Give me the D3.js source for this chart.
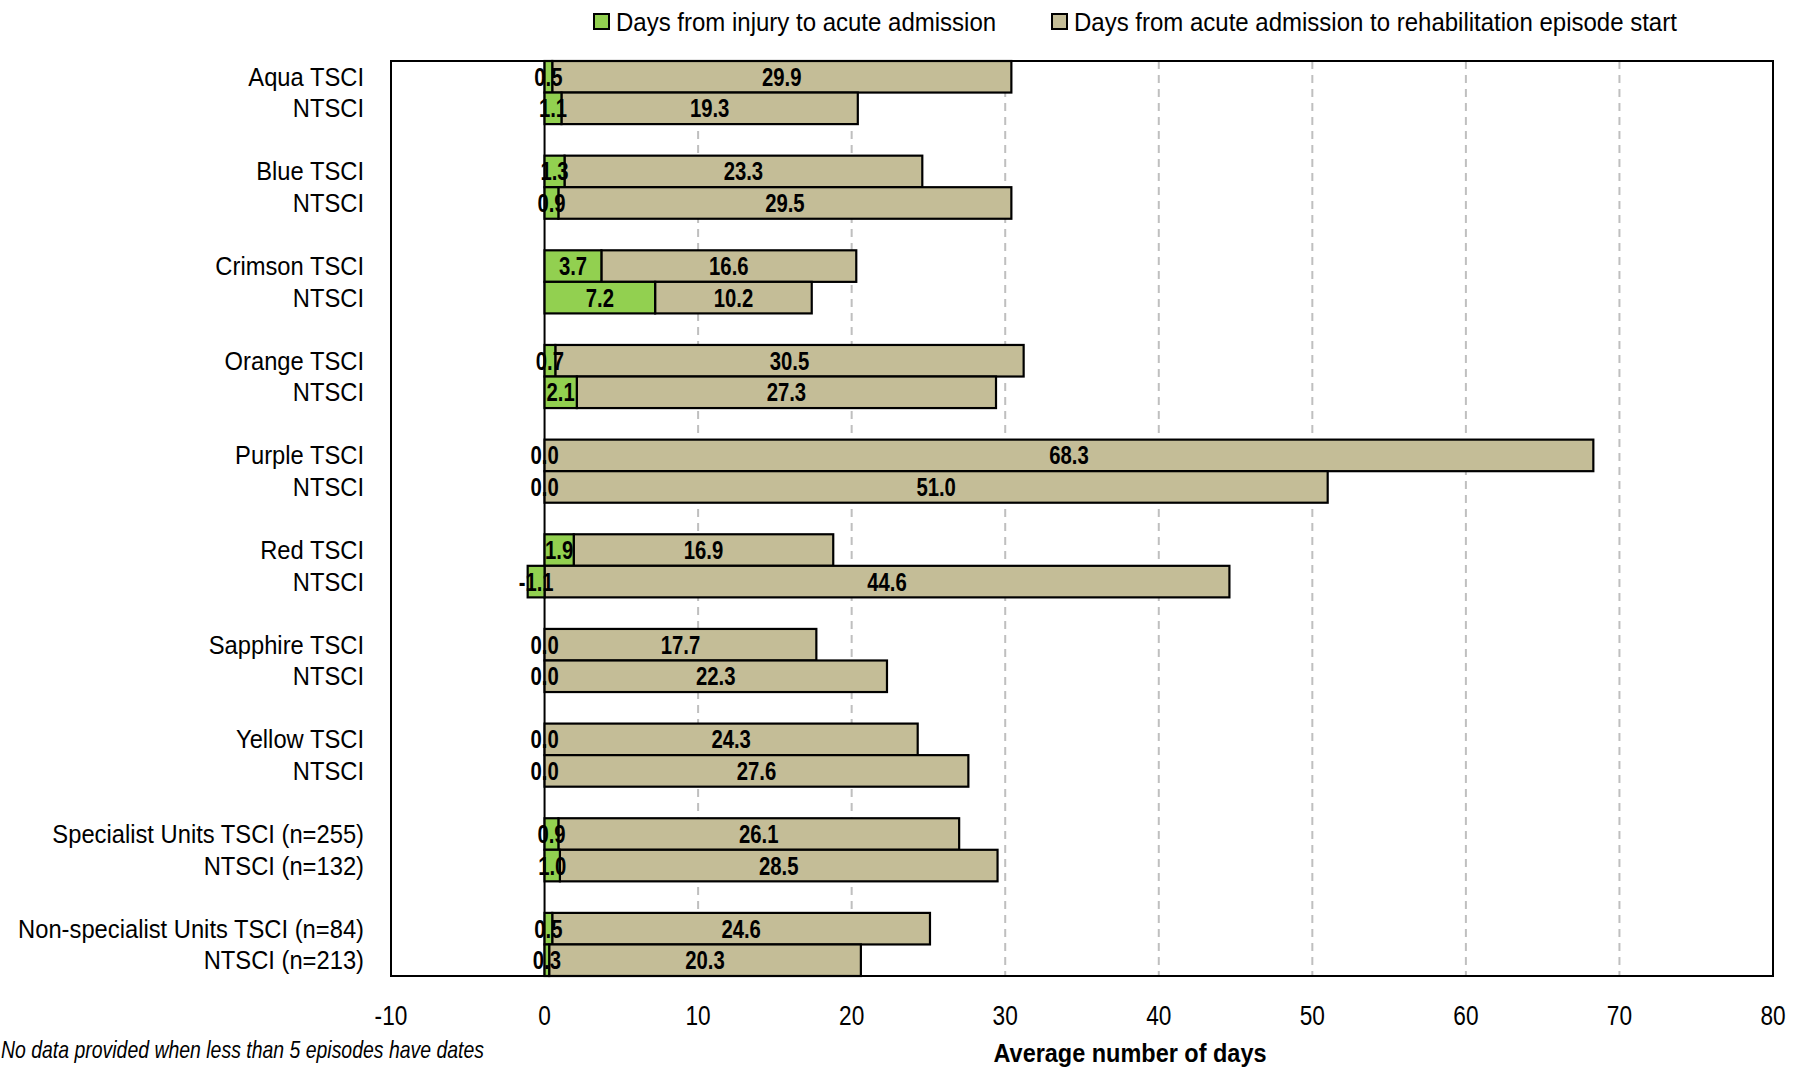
<!DOCTYPE html>
<html><head><meta charset="utf-8">
<script src="https://cdn.jsdelivr.net/npm/d3@7"></script>
<style>
html,body{margin:0;padding:0;background:#fff;}
svg{display:block;font-family:"Liberation Sans",Arial,sans-serif;}
</style></head>
<body>
<svg id="chart" width="1797" height="1073"></svg>
<script>
const groups = ["Aqua","Blue","Crimson","Orange","Purple","Red","Sapphire","Yellow","Specialist Units","Non-specialist Units"];
const rowLabels = [
  "Aqua TSCI","NTSCI","Blue TSCI","NTSCI","Crimson TSCI","NTSCI","Orange TSCI","NTSCI",
  "Purple TSCI","NTSCI","Red TSCI","NTSCI","Sapphire TSCI","NTSCI","Yellow TSCI","NTSCI",
  "Specialist Units TSCI (n=255)","NTSCI (n=132)","Non-specialist Units TSCI (n=84)","NTSCI (n=213)"
];
const injuryDays = [0.5,1.1,1.3,0.9,3.7,7.2,0.7,2.1,0.0,0.0,1.9,-1.1,0.0,0.0,0.0,0.0,0.9,1.0,0.5,0.3];
const admissionDays = [29.9,19.3,23.3,29.5,16.6,10.2,30.5,27.3,68.3,51.0,16.9,44.6,17.7,22.3,24.3,27.6,26.1,28.5,24.6,20.3];
const subTypes = ["TSCI","NTSCI"];
const xTicks = [-10,0,10,20,30,40,50,60,70,80];
const seriesNames = ["Days from injury to acute admission","Days from acute admission to rehabilitation episode start"];
const seriesColors = ["#92d050","#c4bd97"];

const svg = d3.select("#chart");
const plot = {left:391, right:1773, top:61, bottom:976};

const x = d3.scaleLinear().domain([-10,80]).range([plot.left, plot.right]);
const yGroup = d3.scaleBand().domain(groups).range([plot.top, plot.bottom]).paddingInner(1/3).paddingOuter(0);
const ySub = d3.scaleBand().domain(subTypes).range([0, yGroup.bandwidth()]);

const rows = rowLabels.map((lab,i)=>{
  const g = groups[Math.floor(i/2)], s = subTypes[i%2];
  const inj = injuryDays[i], adm = admissionDays[i];
  return {lab, g, s, inj, adm, y: yGroup(g)+ySub(s), h: ySub.bandwidth(), admStart: Math.max(0,inj)};
});

function addText(sel, x0, y0, str, opts){
  const t = sel.append("text")
    .attr("transform", `translate(${x0},${y0}) scale(${opts.sx||1},1)`)
    .attr("text-anchor", opts.anchor||"start")
    .attr("font-size", opts.size)
    .attr("font-weight", opts.weight||"normal")
    .attr("font-style", opts.style||"normal")
    .attr("fill", "#000")
    .text(str);
  if (opts.len) t.attr("textLength", opts.len).attr("lengthAdjust","spacingAndGlyphs");
  return t;
}

// gridlines
const grid = svg.append("g");
xTicks.filter(t=>t>-10 && t<80 && t!==0).forEach(t=>{
  grid.append("line").attr("x1",x(t)).attr("x2",x(t)).attr("y1",plot.top).attr("y2",plot.bottom)
    .attr("stroke","#bfbfbf").attr("stroke-width",2).attr("stroke-dasharray","8,6");
});
// zero line
svg.append("line").attr("x1",x(0)).attr("x2",x(0)).attr("y1",plot.top).attr("y2",plot.bottom)
  .attr("stroke","#000").attr("stroke-width",2);

// bars
const bars = svg.append("g");
rows.forEach(r=>{
  bars.append("rect").attr("x", x(r.admStart)).attr("y", r.y).attr("width", x(r.admStart+r.adm)-x(r.admStart)).attr("height", r.h)
    .attr("fill", seriesColors[1]).attr("stroke","#000").attr("stroke-width",2.2);
  if (r.inj !== 0) {
    bars.append("rect").attr("x", x(Math.min(0,r.inj))).attr("y", r.y).attr("width", Math.abs(x(r.inj)-x(0))).attr("height", r.h)
      .attr("fill", seriesColors[0]).attr("stroke","#000").attr("stroke-width",2.2);
  }
});
// data labels
const labs = svg.append("g");
rows.forEach(r=>{
  const cy = r.y + r.h/2 + 9;
  addText(labs, x(r.inj/2), cy, r.inj.toFixed(1), {size:26, weight:"bold", sx:0.78, anchor:"middle"});
  addText(labs, x(r.admStart + r.adm/2), cy, r.adm.toFixed(1), {size:26, weight:"bold", sx:0.78, anchor:"middle"});
});

// plot border
svg.append("rect").attr("x",plot.left).attr("y",plot.top).attr("width",plot.right-plot.left).attr("height",plot.bottom-plot.top)
  .attr("fill","none").attr("stroke","#000").attr("stroke-width",2);

// category labels
const yl = svg.append("g");
rows.forEach(r=>{
  addText(yl, 364, r.y + r.h/2 + 9, r.lab, {size:25, sx:0.95, anchor:"end"});
});

// x tick labels
const xl = svg.append("g");
xTicks.forEach(t=>{
  addText(xl, x(t), 1025, String(t), {size:27, sx:0.84, anchor:"middle"});
});

// axis title
addText(svg, 1130, 1062, "Average number of days", {size:25.5, weight:"bold", anchor:"middle", len:273});
// footnote
addText(svg, 1, 1058, "No data provided when less than 5 episodes have dates", {size:24, style:"italic", len:483});

// legend
const leg = svg.append("g");
const legX = [594, 1052];
seriesNames.forEach((n,i)=>{
  leg.append("rect").attr("x",legX[i]).attr("y",14).attr("width",15).attr("height",15)
    .attr("fill",seriesColors[i]).attr("stroke","#000").attr("stroke-width",2);
  addText(leg, legX[i]+22, 31, n, {size:25, sx:0.96});
});
</script>
</body></html>
